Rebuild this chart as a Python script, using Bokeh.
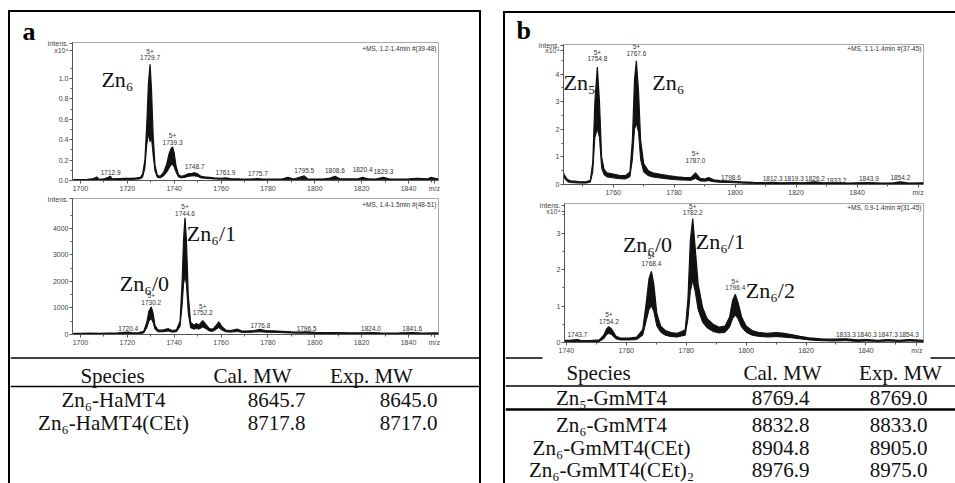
from bokeh.plotting import figure
from bokeh.models import Range1d, FixedTicker, Label, Spacer, NumeralTickFormatter, Title
from bokeh.layouts import row, column
from bokeh.embed import file_html
from bokeh.resources import INLINE
from bokeh.core.properties import value

SERIF = "Liberation Serif"
SANS = "Liberation Sans"
INK = "#111111"

# ---------------- data: panel a, upper spectrum (intensity x10^4) ----------------
mz_a1 = [1697.0, 1700.0, 1703.0, 1705.0, 1707.0, 1707.5, 1708.0, 1710.0, 1712.9, 1713.3,
         1715.0, 1718.0, 1720.0, 1722.0, 1724.0, 1725.5, 1726.5, 1727.5, 1728.3, 1729.0,
         1729.7, 1730.3, 1731.0, 1731.8, 1732.8, 1734.0, 1735.5, 1736.8, 1737.8, 1738.6,
         1739.3, 1740.0, 1740.8, 1741.8, 1743.0, 1744.5, 1746.0, 1747.5, 1748.7, 1750.0,
         1751.5, 1753.0, 1755.0, 1757.0, 1760.0, 1761.9, 1764.0, 1768.0, 1772.0, 1775.7,
         1778.0, 1782.0, 1786.0, 1788.5, 1791.0, 1795.5, 1797.0, 1800.0, 1804.0, 1806.0,
         1808.6, 1811.0, 1815.0, 1818.0, 1820.4, 1823.0, 1826.0, 1829.3, 1832.0, 1836.0,
         1840.0, 1844.0, 1848.0, 1849.5, 1852.8]
hi_a1 = [0.008, 0.010, 0.012, 0.015, 0.035, 0.020, 0.012, 0.015, 0.040, 0.015,
         0.018, 0.020, 0.022, 0.020, 0.025, 0.030, 0.060, 0.200, 0.550, 0.950,
         1.140, 0.900, 0.450, 0.150, 0.050, 0.040, 0.080, 0.160, 0.260, 0.310,
         0.330, 0.270, 0.140, 0.060, 0.040, 0.050, 0.065, 0.070, 0.075, 0.065,
         0.040, 0.035, 0.030, 0.025, 0.020, 0.025, 0.018, 0.015, 0.014, 0.018,
         0.013, 0.014, 0.013, 0.030, 0.015, 0.045, 0.015, 0.014, 0.016, 0.020,
         0.040, 0.015, 0.016, 0.015, 0.030, 0.015, 0.014, 0.030, 0.014, 0.013,
         0.015, 0.020, 0.015, 0.030, 0.015]
lo_a1 = [0.002, 0.003, 0.004, 0.006, 0.008, 0.008, 0.005, 0.006, 0.008, 0.007,
         0.009, 0.010, 0.011, 0.010, 0.013, 0.016, 0.030, 0.120, 0.350, 0.450,
         0.380, 0.420, 0.250, 0.090, 0.030, 0.025, 0.045, 0.080, 0.120, 0.150,
         0.160, 0.130, 0.080, 0.035, 0.025, 0.030, 0.040, 0.045, 0.045, 0.040,
         0.025, 0.022, 0.018, 0.015, 0.012, 0.012, 0.010, 0.008, 0.007, 0.009,
         0.006, 0.007, 0.006, 0.008, 0.007, 0.008, 0.007, 0.006, 0.007, 0.008,
         0.009, 0.007, 0.008, 0.007, 0.008, 0.007, 0.006, 0.008, 0.006, 0.006,
         0.007, 0.008, 0.007, 0.008, 0.007]
lab_a1_mz = [1712.9, 1729.7, 1739.3, 1748.7, 1761.9, 1775.7, 1795.5, 1808.6, 1820.4, 1829.3]
lab_a1_y = [0.05, 1.17, 0.34, 0.11, 0.05, 0.04, 0.07, 0.07, 0.08, 0.06]
lab_a1_txt = ["1712.9", "5+\n1729.7", "5+\n1739.3", "1748.7", "1761.9", "1775.7",
              "1795.5", "1808.6", "1820.4", "1829.3"]
zn_a1_x = [1715.8]
zn_a1_y = [0.99]
zn_a1_txt = ["Zn\u2086"]

# ---------------- data: panel a, lower spectrum (intensity) ----------------
mz_a2 = [1697.0, 1700.0, 1704.0, 1708.0, 1712.0, 1716.0, 1720.4, 1722.0, 1725.0, 1727.0,
         1728.3, 1729.2, 1730.2, 1731.0, 1731.8, 1733.0, 1735.0, 1737.5, 1739.0, 1741.0,
         1742.5, 1743.4, 1744.0, 1744.6, 1745.2, 1746.0, 1747.0, 1748.5, 1749.5, 1750.5,
         1752.2, 1753.5, 1755.0, 1756.5, 1758.0, 1759.0, 1760.5, 1762.0, 1764.0, 1767.0,
         1769.0, 1772.0, 1774.0, 1776.8, 1779.0, 1782.0, 1786.0, 1790.0, 1793.0, 1796.5,
         1800.0, 1805.0, 1810.0, 1815.0, 1820.0, 1824.0, 1828.0, 1832.0, 1836.0, 1841.6,
         1846.0, 1852.8]
hi_a2 = [40, 45, 50, 45, 55, 60, 90, 60, 70, 120,
         450, 880, 1040, 800, 350, 180, 170, 220, 150, 180,
         500, 2000, 3600, 4400, 3600, 1500, 450, 350, 420, 350,
         520, 380, 220, 200, 350, 480, 280, 170, 150, 200,
         130, 140, 150, 190, 150, 140, 120, 100, 90, 100,
         80, 70, 70, 60, 65, 70, 60, 55, 60, 75,
         55, 60]
lo_a2 = [10, 12, 15, 12, 18, 20, 25, 20, 25, 60,
         250, 500, 600, 450, 200, 100, 100, 130, 90, 100,
         300, 1100, 1900, 2200, 1900, 800, 250, 200, 230, 200,
         280, 220, 130, 120, 200, 260, 160, 100, 90, 110,
         80, 80, 90, 100, 85, 80, 70, 55, 50, 50,
         40, 35, 35, 30, 30, 35, 30, 25, 30, 35,
         25, 30]
lab_a2_mz = [1720.4, 1730.2, 1744.6, 1752.2, 1776.8, 1796.5, 1824.0, 1841.6]
lab_a2_y = [150, 1080, 4450, 680, 230, 150, 120, 150]
lab_a2_txt = ["1720.4", "5+\n1730.2", "5+\n1744.6", "5+\n1752.2", "1776.8", "1796.5",
              "1824.0", "1841.6"]
zn_a2_x = [1727.3, 1755.9]
zn_a2_y = [1930, 3811]
zn_a2_txt = ["Zn\u2086/0", "Zn\u2086/1"]

# ---------------- data: panel b, upper spectrum (intensity x10^4) ----------------
mz_b1 = [1743.7, 1744.2, 1745.0, 1746.0, 1747.5, 1749.0, 1751.0, 1752.5, 1753.3, 1754.0,
         1754.8, 1755.5, 1756.2, 1757.0, 1758.0, 1760.0, 1762.0, 1764.0, 1765.5, 1766.3,
         1767.0, 1767.6, 1768.3, 1769.0, 1770.0, 1771.5, 1773.0, 1775.0, 1778.0, 1781.0,
         1783.0, 1785.5, 1787.0, 1788.5, 1790.0, 1791.3, 1793.0, 1795.0, 1798.6, 1802.0,
         1806.0, 1810.0, 1812.3, 1815.0, 1819.3, 1822.0, 1826.2, 1829.0, 1833.2, 1837.0,
         1840.0, 1843.9, 1848.0, 1852.0, 1854.2, 1857.0, 1861.8]
hi_b1 = [0.42, 0.30, 0.18, 0.13, 0.12, 0.10, 0.10, 0.15, 0.80, 3.00,
         4.25, 3.00, 1.00, 0.55, 0.42, 0.38, 0.33, 0.32, 0.45, 1.60,
         3.80, 4.48, 3.40, 1.60, 0.75, 0.50, 0.42, 0.38, 0.32, 0.28,
         0.26, 0.25, 0.42, 0.22, 0.20, 0.25, 0.17, 0.14, 0.12, 0.10,
         0.08, 0.07, 0.08, 0.06, 0.07, 0.06, 0.10, 0.06, 0.07, 0.05,
         0.06, 0.07, 0.05, 0.06, 0.10, 0.05, 0.06]
lo_b1 = [0.30, 0.20, 0.10, 0.07, 0.06, 0.05, 0.05, 0.08, 0.45, 1.70,
         2.00, 1.70, 0.60, 0.35, 0.27, 0.24, 0.21, 0.20, 0.28, 0.90,
         2.00, 2.20, 1.90, 0.90, 0.45, 0.32, 0.27, 0.24, 0.20, 0.17,
         0.16, 0.15, 0.22, 0.13, 0.12, 0.14, 0.10, 0.08, 0.07, 0.05,
         0.04, 0.03, 0.04, 0.03, 0.03, 0.03, 0.04, 0.03, 0.03, 0.02,
         0.03, 0.03, 0.02, 0.03, 0.04, 0.02, 0.03]
lab_b1_mz = [1754.8, 1767.6, 1787.0, 1798.6, 1812.3, 1819.3, 1826.2, 1833.2, 1843.9, 1854.2]
lab_b1_y = [4.43, 4.62, 0.75, 0.18, 0.11, 0.11, 0.14, 0.07, 0.11, 0.18]
lab_b1_txt = ["5+\n1754.8", "5+\n1767.6", "5+\n1787.0", "1798.6", "1812.3", "1819.3",
              "1826.2", "1833.2", "1843.9", "1854.2"]
zn_b1_x = [1749.0, 1778.1]
zn_b1_y = [3.68, 3.68]
zn_b1_txt = ["Zn\u2085", "Zn\u2086"]

# ---------------- data: panel b, lower spectrum (intensity x10^4) ----------------
mz_b2 = [1739.4, 1741.0, 1743.7, 1745.0, 1748.0, 1751.0, 1752.5, 1753.5, 1754.2, 1755.0,
         1756.5, 1758.0, 1761.0, 1763.5, 1765.5, 1766.7, 1767.6, 1768.4, 1769.2, 1770.2,
         1771.5, 1773.0, 1775.0, 1777.0, 1778.5, 1779.7, 1780.6, 1781.4, 1782.2, 1783.0,
         1784.0, 1785.5, 1787.0, 1789.0, 1791.0, 1793.0, 1794.5, 1795.5, 1796.4, 1797.3,
         1798.5, 1800.0, 1802.0, 1804.0, 1807.0, 1810.0, 1812.0, 1815.0, 1818.0, 1821.0,
         1825.0, 1829.0, 1833.3, 1837.0, 1840.3, 1844.0, 1847.3, 1851.0, 1854.3, 1859.2]
hi_b2 = [0.06, 0.06, 0.08, 0.05, 0.05, 0.07, 0.20, 0.38, 0.43, 0.38,
         0.18, 0.12, 0.12, 0.15, 0.35, 1.10, 1.75, 1.95, 1.60, 0.80,
         0.45, 0.33, 0.27, 0.25, 0.30, 0.35, 1.20, 2.80, 3.40, 2.60,
         1.60, 0.95, 0.65, 0.50, 0.42, 0.45, 0.70, 1.15, 1.32, 1.10,
         0.70, 0.45, 0.33, 0.28, 0.25, 0.27, 0.26, 0.22, 0.17, 0.13,
         0.10, 0.09, 0.10, 0.07, 0.08, 0.06, 0.08, 0.06, 0.08, 0.06]
lo_b2 = [0.02, 0.02, 0.03, 0.02, 0.02, 0.03, 0.10, 0.22, 0.25, 0.22,
         0.10, 0.07, 0.07, 0.08, 0.20, 0.60, 0.90, 1.00, 0.85, 0.45,
         0.28, 0.20, 0.16, 0.15, 0.18, 0.20, 0.65, 1.40, 1.70, 1.40,
         0.90, 0.55, 0.40, 0.30, 0.26, 0.28, 0.42, 0.65, 0.75, 0.65,
         0.42, 0.28, 0.20, 0.17, 0.15, 0.16, 0.15, 0.13, 0.10, 0.07,
         0.05, 0.04, 0.05, 0.03, 0.04, 0.03, 0.04, 0.03, 0.04, 0.03]
lab_b2_mz = [1743.7, 1754.2, 1768.4, 1782.2, 1796.4, 1833.3, 1840.3, 1847.3, 1854.3]
lab_b2_y = [0.16, 0.49, 2.08, 3.46, 1.40, 0.16, 0.16, 0.15, 0.16]
lab_b2_txt = ["1743.7", "5+\n1754.2", "5+\n1768.4", "5+\n1782.2", "5+\n1796.4",
              "1833.3", "1840.3", "1847.3", "1854.3"]
zn_b2_x = [1767.1, 1791.4, 1808.1]
zn_b2_y = [2.68, 2.78, 1.43]
zn_b2_txt = ["Zn\u2086/0", "Zn\u2086/1", "Zn\u2086/2"]

# ---------------- axis ticks ----------------
xt_a = [1700, 1720, 1740, 1760, 1780, 1800, 1820, 1840]
xt_b1 = [1760, 1780, 1800, 1820, 1840]
xt_b2 = [1740, 1760, 1780, 1800, 1820, 1840]
yt_a1 = [0.0, 0.2, 0.4, 0.6, 0.8, 1.0]
yt_a2 = [0, 1000, 2000, 3000, 4000]
yt_b1 = [0, 1, 2, 3, 4]
yt_b2 = [0, 1, 2, 3]

# ---------------- tables ----------------
headers = ["Species", "Cal. MW", "Exp. MW"]
species_a = ["Zn\u2086-HaMT4", "Zn\u2086-HaMT4(CEt)"]
cal_a = [8645.7, 8717.8]
exp_a = [8645.0, 8717.0]
species_b = ["Zn\u2085-GmMT4", "Zn\u2086-GmMT4", "Zn\u2086-GmMT4(CEt)", "Zn\u2086-GmMT4(CEt)\u2082"]
cal_b = [8769.4, 8832.8, 8904.8, 8976.9]
exp_b = [8769.0, 8833.0, 8905.0, 8975.0]


def spectrum(width, height, borders, xr, yr, xticks, mz_tick, yticks, yminor, yfmt,
             mz, hi, lo, lab_mz, lab_y, lab_txt, zn_x, zn_y, zn_txt, header,
             intens_y, x10_y=None, letter=None, letter_offset=0, letter_standoff=0):
    bl, br, bt, bb = borders
    p = figure(width=width, height=height, x_range=Range1d(*xr), y_range=Range1d(*yr),
               output_backend="svg", toolbar_location=None, frame_align=False,
               min_border_left=bl, min_border_right=br,
               min_border_top=bt, min_border_bottom=bb)
    fw = width - bl - br
    fh = height - bt - bb
    p.grid.visible = False
    p.outline_line_color = "#a8a8a8"
    p.background_fill_color = "white"
    p.border_fill_color = "white"
    xminor = [t + 10 for t in xticks] + [xticks[0] - 10]
    p.xaxis.ticker = FixedTicker(ticks=xticks + [mz_tick], minor_ticks=xminor)
    p.xaxis.major_label_overrides = {mz_tick: "m/z"}
    yt = list(yticks) + [intens_y]
    over = {intens_y: "Intens."}
    if x10_y is not None:
        yt.append(x10_y)
        over[x10_y] = "x10\u2074"
    p.yaxis.ticker = FixedTicker(ticks=yt, minor_ticks=yminor)
    p.yaxis.formatter = NumeralTickFormatter(format=yfmt)
    p.yaxis.major_label_overrides = over
    for ax in (p.xaxis[0], p.yaxis[0]):
        ax.axis_line_color = "#555555"
        ax.major_tick_line_color = "#555555"
        ax.minor_tick_line_color = "#555555"
        ax.major_tick_out = 3
        ax.major_tick_in = 0
        ax.minor_tick_out = 2
        ax.minor_tick_in = 0
        ax.major_label_text_font = SANS
        ax.major_label_text_font_size = "7px"
        ax.major_label_text_color = "#444444"
        ax.major_label_standoff = 1
    p.varea(x=mz, y1=lo, y2=hi, fill_color=INK)
    p.line(x=mz, y=hi, line_color=INK, line_width=1.2)
    p.line(x=mz, y=lo, line_color=INK, line_width=1.0)
    p.text(x=lab_mz, y=lab_y, text=lab_txt, text_align="center", text_baseline="bottom",
           text_font=value(SANS), text_font_size="6.5px", text_color="#333333",
           text_line_height=0.95)
    p.text(x=zn_x, y=zn_y, text=zn_txt, text_align="center", text_baseline="middle",
           text_font=value(SERIF), text_font_size="22px", text_color=INK)
    p.add_layout(Label(x=fw - 2, y=fh - 2, x_units="screen", y_units="screen", text=header,
                       text_align="right", text_baseline="top", text_font=SANS,
                       text_font_size="6.5px", text_color="#333333"))
    if letter:
        p.add_layout(Title(text=letter, align="left", offset=letter_offset,
                           standoff=letter_standoff, text_font=SERIF,
                           text_font_size="26px", text_font_style="bold",
                           text_color="black"), "above")
    return p


def table_fig(width, height, xr, yr):
    t = figure(width=width, height=height, x_range=Range1d(*xr), y_range=Range1d(*yr),
               output_backend="svg", toolbar_location=None, frame_align=False,
               min_border=0, min_border_left=0, min_border_right=0,
               min_border_top=0, min_border_bottom=0,
               x_axis_type=None, y_axis_type=None)
    t.outline_line_color = None
    t.background_fill_color = "white"
    t.border_fill_color = "white"
    return t


def bar(w, h):
    return Spacer(width=w, height=h, styles={"background-color": "black"})


# ---- panel a ----
figA1 = spectrum(469, 183, (62, 41, 30, 15), (1696.6, 1852.8), (0, 1.353), xt_a, 1851,
                 yt_a1, [0.1, 0.3, 0.5, 0.7, 0.9, 1.1], "0.0",
                 mz_a1, hi_a1, lo_a1, lab_a1_mz, lab_a1_y, lab_a1_txt,
                 zn_a1_x, zn_a1_y, zn_a1_txt, "+MS, 1.2-1.4min #(39-48)",
                 intens_y=1.343, x10_y=1.27, letter="a", letter_offset=-50,
                 letter_standoff=-6)
figA2 = spectrum(469, 157, (62, 41, 3, 18), (1696.6, 1852.8), (0, 5130), xt_a, 1851,
                 yt_a2, [500, 1500, 2500, 3500, 4500], "0",
                 mz_a2, hi_a2, lo_a2, lab_a2_mz, lab_a2_y, lab_a2_txt,
                 zn_a2_x, zn_a2_y, zn_a2_txt, "+MS, 1.4-1.5min #(48-51)",
                 intens_y=5130)

tabA = table_fig(469, 131, (10, 479), (483, 352))
tabA.segment(x0=[10, 10], y0=[357.5, 386], x1=[479, 479], y1=[357.5, 386],
             line_color="black", line_width=1.5)
tabA.text(x=[112, 252, 371], y=[375] * 3, text=headers, text_align="center",
          text_baseline="middle", text_font=value(SERIF), text_font_size="21px", text_color=INK)
rows_a_y = [399, 422]
tabA.text(x=[113] * 2, y=rows_a_y, text=species_a, text_align="center", text_baseline="middle",
          text_font=value(SERIF), text_font_size="21px", text_color=INK)
tabA.text(x=[276] * 2, y=rows_a_y, text=[f"{v:.1f}" for v in cal_a], text_align="center",
          text_baseline="middle", text_font=value(SERIF), text_font_size="21px", text_color=INK)
tabA.text(x=[408] * 2, y=rows_a_y, text=[f"{v:.1f}" for v in exp_a], text_align="center",
          text_baseline="middle", text_font=value(SERIF), text_font_size="21px", text_color=INK)

# ---- panel b ----
figB1 = spectrum(450, 185, (58, 32, 29, 14), (1743.7, 1861.8), (0, 5.07), xt_b1, 1860,
                 yt_b1, [0.5, 1.5, 2.5, 3.5, 4.5], "0",
                 mz_b1, hi_b1, lo_b1, lab_b1_mz, lab_b1_y, lab_b1_txt,
                 zn_b1_x, zn_b1_y, zn_b1_txt, "+MS, 1.1-1.4min #(37-45)",
                 intens_y=5.05, x10_y=4.86, letter="b", letter_offset=-47,
                 letter_standoff=0)
figB2 = spectrum(450, 158, (59, 32, 5, 12), (1739.4, 1859.2), (0, 3.81), xt_b2, 1857,
                 yt_b2, [0.5, 1.5, 2.5, 3.5], "0",
                 mz_b2, hi_b2, lo_b2, lab_b2_mz, lab_b2_y, lab_b2_txt,
                 zn_b2_x, zn_b2_y, zn_b2_txt, "+MS, 0.9-1.4min #(31-45)",
                 intens_y=3.755, x10_y=3.59)

tabB = table_fig(450, 127, (505, 955), (483, 356))
tabB.segment(x0=[505, 930, 505], y0=[357.5, 357.5, 385.5], x1=[542, 955, 955],
             y1=[357.5, 357.5, 385.5], line_color="black", line_width=1.5)
tabB.segment(x0=[505], y0=[409], x1=[955], y1=[409], line_color="black", line_width=2.5)
tabB.text(x=[598, 782, 900], y=[372] * 3, text=headers, text_align="center",
          text_baseline="middle", text_font=value(SERIF), text_font_size="21px", text_color=INK)
rows_b_y = [397, 424, 447, 469]
tabB.text(x=[611] * 4, y=rows_b_y, text=species_b, text_align="center", text_baseline="middle",
          text_font=value(SERIF), text_font_size="21px", text_color=INK)
tabB.text(x=[780] * 4, y=rows_b_y, text=[f"{v:.1f}" for v in cal_b], text_align="center",
          text_baseline="middle", text_font=value(SERIF), text_font_size="21px", text_color=INK)
tabB.text(x=[898] * 4, y=rows_b_y, text=[f"{v:.1f}" for v in exp_b], text_align="center",
          text_baseline="middle", text_font=value(SERIF), text_font_size="21px", text_color=INK)

panelA = column(bar(473, 2), row(bar(2, 471), column(figA1, figA2, tabA), bar(2, 471)))
panelB = column(Spacer(width=452, height=1), bar(452, 2),
                row(bar(2, 470), column(figB1, figB2, tabB)))
p = column(Spacer(width=955, height=10),
           row(Spacer(width=8, height=473), panelA, Spacer(width=22, height=473), panelB))

open("out.html", "w").write(file_html(p, INLINE))
